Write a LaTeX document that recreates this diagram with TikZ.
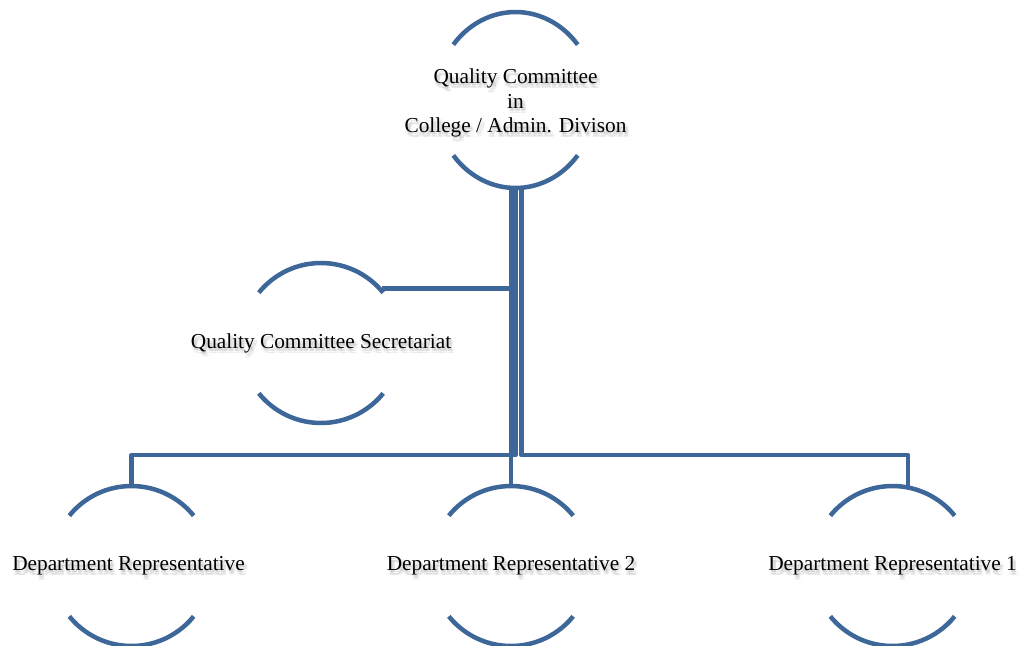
\documentclass[tikz,border=0pt]{standalone}
\usepackage{fontspec}
\setmainfont{Liberation Serif}
\usetikzlibrary{shapes.geometric}
\definecolor{orgblue}{RGB}{61,103,153}
\tikzset{ring/.style = {ellipse, inner sep = 0, minimum width = 160, minimum height = 160}}
\tikzset{txt/.style = {inner sep = 0, align = center, font = \fontsize{21.3}{24.5}\selectfont}}
\tikzset{rim/.style = {draw = orgblue, line width = 4.5}}
\tikzset{link/.style = {draw = orgblue, line width = 4.5, line join = round}}
\newcommand{\blurtext}[2]{%
  \foreach \sx in {0.5, 2, 3.5} \foreach \sy in {2, 3.5, 5}
    \node[txt, text opacity = .035] at ([shift = {(\sx pt, -\sy pt)}]#1) {#2};}

\begin{document}
\begin{tikzpicture}[x = 1pt, y = 1pt]
      \useasboundingbox[fill = white] (0, 0) rectangle (1019, -645);

      \foreach \n/\x/\y/\ry in {top/515.5/-100/88, sec/321/-343/80, rep/131.5/-566/80,
                                reptwo/511/-566/80, repone/892.5/-566/80} {
        \node[ring, minimum height = 2*\ry] (\n) at (\x, \y) {};
        \draw[rim] (\n.center) ++(39:80 and \ry) arc[start angle = 39, end angle = 141, x radius = 80, y radius = \ry];
        \draw[rim] (\n.center) ++(-39:80 and \ry) arc[start angle = -39, end angle = -141, x radius = 80, y radius = \ry];
      }

      \coordinate (bus) at (0, -455);
      \coordinate (dropone) at ([xshift = 15.5pt]repone.north);
      \draw[link] ([xshift = -4.5pt]top.south) |- ([yshift = 3pt]sec.40);
      \draw[link] ([xshift = -4.5pt]top.south) -- (reptwo.north);
      \draw[link] (top.south) |- (rep.north |- bus) -- (rep.north);
      \draw[link] ([xshift = 6pt]top.south) |- (dropone |- bus) -- (dropone);

      % soft shadow under every label
      \coordinate (topmid) at ([yshift = -3pt]top.center);
      \coordinate (repmid) at ([xshift = -3pt]rep.center);
      \blurtext{topmid}{Quality Committee\\in\\College / Admin. Divison}
      \blurtext{sec}{Quality Committee Secretariat}
      \blurtext{repmid}{Department Representative}
      \blurtext{reptwo}{Department Representative 2}
      \blurtext{repone}{Department Representative 1}

      \node[txt] (toptext) at (topmid) {Quality Committee\\in\\College / Admin. Divison};
      \node[txt] (sectext) at (sec) {Quality Committee Secretariat};
      \node[txt] (reptext) at (repmid) {Department Representative};
      \node[txt] (reptwotext) at (reptwo) {Department Representative 2};
      \node[txt] (reponetext) at (repone) {Department Representative 1};
    \end{tikzpicture}
\end{document}
